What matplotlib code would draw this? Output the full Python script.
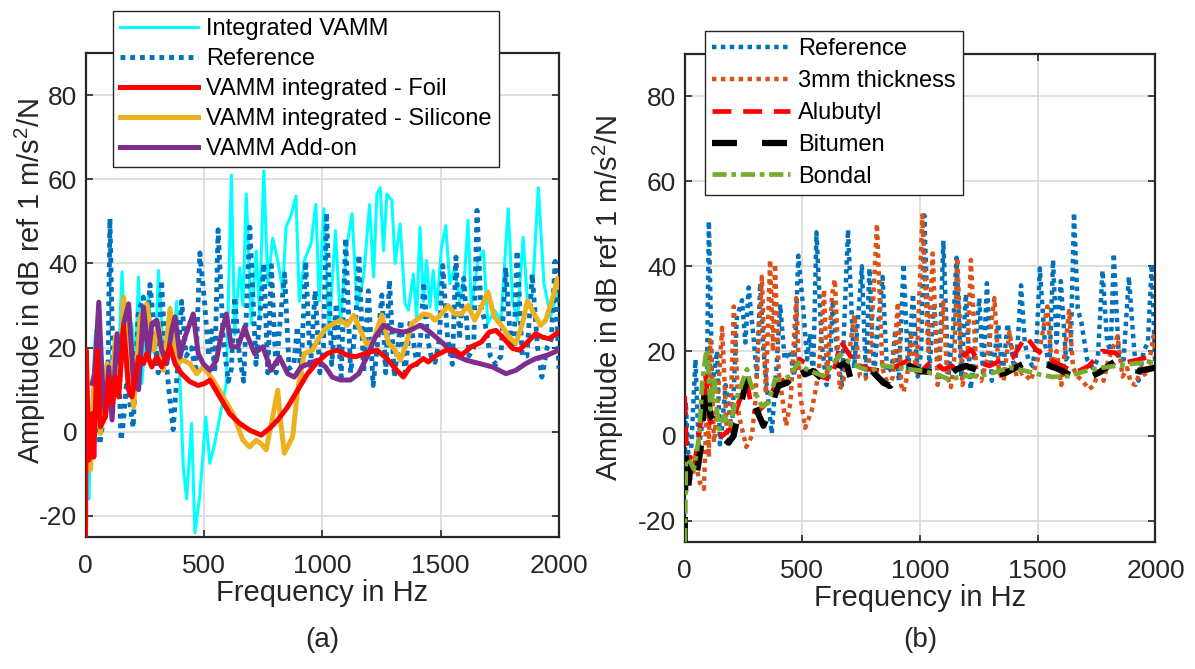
import numpy as np
import matplotlib
matplotlib.use("Agg")
import matplotlib.pyplot as plt

plt.rcParams["font.family"] = ["Liberation Sans", "DejaVu Sans"]
plt.rcParams["mathtext.default"] = "regular"
plt.rcParams["axes.unicode_minus"] = False

# ---- data: (frequency in Hz, amplitude in dB) ----
reference = [(0, -10), (5, 8), (15, -4), (28, -3), (46, 18), (60, -3), (80, 5), (95, 15),
             (103, 50.6), (117, 12), (138, 20), (150, -2), (159, 2), (174, 12), (180, 10),
             (201, 1), (222, 28), (244, 32), (258, 22), (272, 35), (293, 23), (307, 14),
             (321, 36), (335, 20), (352, 10), (370, 0.5), (390, 16), (406, 31), (425, 18),
             (448, 20), (465, 14), (483, 42.5), (504, 30), (520, 18), (532, 24), (546, 14),
             (560, 48), (582, 22), (603, 12), (616, 15), (630, 32), (650, 18), (668, 12),
             (694, 48.6), (720, 16), (740, 30), (753, 40), (770, 14), (785, 39.5), (805, 14),
             (820, 25), (841, 37.5), (860, 15), (880, 16), (895, 25), (910, 13), (930, 40.5),
             (950, 15), (970, 33.5), (990, 14), (1005, 20), (1018, 52), (1040, 16),
             (1059, 30.5), (1080, 13), (1099, 46), (1120, 14), (1140, 25), (1155, 42),
             (1175, 14), (1195, 33.5), (1215, 11), (1232, 20), (1252, 32.5), (1268, 14),
             (1284, 36), (1305, 13), (1332, 26.5), (1350, 14), (1372, 26.5), (1400, 16),
             (1415, 22), (1429, 35.5), (1445, 22), (1460, 18), (1477, 16.5), (1495, 22),
             (1509, 39.5), (1530, 22), (1550, 16), (1565, 41.5), (1580, 22), (1598, 36.5),
             (1620, 18), (1640, 20), (1654, 52.6), (1670, 30), (1686, 26.5), (1710, 18),
             (1734, 16), (1755, 18), (1775, 39), (1795, 22), (1810, 20), (1823, 43),
             (1845, 18), (1865, 18), (1887, 37.5), (1910, 20), (1928, 13), (1950, 20),
             (1968, 22), (1984, 40.5), (2000, 15)]

integrated_vamm = [(0, -5), (8, -9), (14, -16), (25, 5), (42, 24), (56, 15), (70, 8), (84, 5),
                   (100, 14), (120, 12), (140, 18), (154, 38), (175, 10), (196, 25.7), (210, 16),
                   (224, 36.8), (238, 11.5), (266, 32.8), (280, 20), (295, 18), (308, 38.3),
                   (329, 17.8), (357, 29.6), (370, 20), (385, 31), (399, 11.5), (413, -8.3),
                   (427, -16), (448, 2), (462, -24), (483, -15), (508, 3.5), (525, -7.5),
                   (545, -3), (567, 3.5), (595, 11.5), (616, 61), (630, 23), (651, 39), (665, 30),
                   (679, 56.5), (700, 25.7), (721, 43), (735, 28), (753, 62), (770, 35), (791, 46),
                   (812, 40.7), (833, 33.6), (847, 48.6), (868, 51.4), (889, 56), (903, 31),
                   (924, 40.7), (952, 44.6), (973, 54), (987, 31), (1007, 53), (1028, 23.3),
                   (1056, 47.8), (1077, 25.7), (1103, 43.9), (1126, 51.8), (1147, 29.6),
                   (1175, 36.8), (1200, 54), (1217, 36.8), (1231, 56.5), (1245, 58), (1259, 43),
                   (1273, 56.5), (1294, 55), (1308, 40), (1329, 49.4), (1350, 30.4), (1364, 28.9),
                   (1385, 37.5), (1399, 27), (1413, 48.6), (1427, 31), (1441, 40.7), (1455, 29.6),
                   (1469, 38.3), (1483, 28.9), (1504, 43.9), (1522, 49), (1539, 35.2), (1560, 39),
                   (1581, 31), (1602, 37.5), (1616, 50.2), (1630, 29.6), (1658, 40.7), (1681, 43),
                   (1700, 25.7), (1727, 28.9), (1755, 26.5), (1786, 53), (1804, 31), (1825, 26.5),
                   (1849, 46.2), (1867, 31), (1888, 32.8), (1913, 58), (1937, 35.2), (1965, 27.3),
                   (1993, 33.6), (2000, 30)]

foil = [(0, -25), (3, 19.4), (14, -6.7), (28, 4.3), (35, -6), (49, 19.4), (63, 1.2), (84, 3.6),
        (98, 13), (112, 6.7), (126, 13), (140, 8.3), (161, 25), (182, 10), (196, 8.3), (224, 17.8),
        (245, 16.2), (259, 18.6), (280, 15.4), (301, 17.8), (322, 15.4), (357, 20.2), (378, 16.2),
        (406, 13.8), (441, 11.9), (476, 11), (504, 11.5), (525, 12.3), (567, 8.3), (609, 4.3),
        (651, 2), (693, 0.4), (742, -0.8), (777, 0.8), (812, 2.8), (854, 5.9), (896, 9.9),
        (938, 13.8), (980, 16.6), (1021, 18.6), (1063, 19.4), (1105, 18.2), (1140, 17.8),
        (1182, 18.6), (1231, 19.4), (1273, 17.4), (1315, 14.6), (1343, 13), (1371, 15.4),
        (1399, 16.2), (1427, 17.4), (1448, 16.6), (1483, 18.2), (1525, 19.4), (1560, 19.4),
        (1588, 18.2), (1630, 20.2), (1672, 21.3), (1706, 23.7), (1734, 24.1), (1762, 22.5),
        (1804, 19.8), (1832, 19.4), (1867, 21.3), (1902, 23.3), (1930, 22.5), (1958, 22.1),
        (2000, 23.7)]

silicone = [(0, 0), (7, 0), (21, -9), (35, 11.5), (48, 9), (63, -0.4), (91, 16.2), (112, 11.5),
            (126, 22.5), (145, 12), (161, 32), (182, 15.4), (203, 5.9), (231, 27.3), (259, 30.4),
            (287, 19.4), (308, 25.7), (329, 14.6), (357, 29.2), (385, 16.2), (413, 17), (441, 16.2),
            (469, 13.8), (497, 15.4), (539, 12.3), (581, 8.3), (623, 4.3), (665, -2), (693, -3.6),
            (721, -2), (745, -3), (763, -4.3), (791, 3.6), (812, 9.9), (825, 2), (840, -5.1),
            (875, -1.2), (896, 9.9), (924, 18.6), (959, 19.4), (987, 22.5), (1021, 24.9),
            (1049, 25.7), (1077, 26.5), (1105, 25.3), (1133, 27.7), (1161, 24.1), (1189, 20.6),
            (1217, 21.7), (1252, 27.7), (1280, 21), (1301, 20), (1330, 17), (1356, 21),
            (1378, 25.7), (1406, 26.9), (1427, 28), (1455, 27.7), (1476, 26.5), (1504, 28),
            (1532, 30), (1560, 28), (1588, 28), (1616, 30), (1644, 26.5), (1672, 29.6),
            (1700, 33.2), (1727, 27.3), (1762, 24.9), (1790, 22.5), (1818, 21), (1846, 25.7),
            (1867, 31.2), (1895, 28), (1923, 25.3), (1944, 26.5), (1979, 32.8), (1993, 36.4),
            (2000, 34.4)]

add_on = [(28, 11.5), (38, 13.8), (56, 30.8), (70, 13), (84, 3.6), (98, 15.4), (112, 2.8),
          (133, 23.3), (147, 16.2), (161, 25.7), (182, 30.4), (203, 11.5), (224, 10), (245, 29.6),
          (266, 17.8), (280, 25.7), (301, 26.5), (322, 19.4), (343, 16.2), (364, 24.1), (378, 27.3),
          (399, 17.8), (420, 22.5), (455, 28), (476, 18.6), (497, 16.2), (525, 14.6), (553, 17),
          (574, 23.3), (595, 28), (616, 20.2), (644, 20.2), (672, 24.9), (686, 22.5), (714, 18.6),
          (749, 20.2), (784, 14.6), (819, 17.8), (854, 13.8), (882, 13), (910, 15.4), (945, 16.2),
          (980, 17), (1014, 15.4), (1042, 13), (1077, 12.3), (1119, 12.3), (1154, 13.8),
          (1189, 17.8), (1224, 22.5), (1259, 25.3), (1301, 24.1), (1343, 23.7), (1371, 24.1),
          (1413, 25.3), (1455, 23.7), (1511, 21), (1560, 18.2), (1609, 17), (1665, 16.2),
          (1720, 15.4), (1776, 13.8), (1818, 14.6), (1860, 16.2), (1902, 17.4), (1951, 18.2),
          (2000, 19.4)]

thick_3mm = [(0, -8), (10, -10), (25, -10), (40, -8), (53, -8), (65, -11), (82, -12.5), (96, 11),
             (103, -5), (109, 22.5), (125, -1.5), (140, 8), (159, 25.5), (180, 0), (195, 5),
             (209, 30.5), (230, 5), (262, -2.6), (286, 0), (300, 8), (328, 37.5), (345, 10),
             (363, 41.5), (375, 20), (384, 40.5), (400, 15), (431, 2.4), (450, 8), (474, 32.5),
             (490, 10), (512, 1.9), (540, 6), (570, 15), (592, 34.5), (605, 14), (627, 33.5),
             (638, 36.9), (659, 11), (672, 12.5), (700, 20), (721, 28.5), (745, 14), (769, 13.5),
             (790, 20), (817, 50), (840, 16), (866, 11.5), (885, 14), (906, 31.5), (920, 12),
             (930, 10.4), (945, 14), (962, 23.5), (985, 15), (1010, 52), (1035, 20), (1054, 43),
             (1075, 12), (1099, 31.5), (1115, 14), (1131, 11.5), (1145, 18), (1158, 42),
             (1180, 12), (1200, 16), (1216, 41.5), (1240, 14), (1260, 13), (1285, 18),
             (1316, 32.5), (1335, 15), (1355, 13), (1380, 24.5), (1410, 14), (1440, 15),
             (1470, 13), (1500, 18), (1541, 30.5), (1560, 16), (1580, 20), (1600, 12),
             (1633, 29.5), (1650, 16), (1670, 14), (1690, 13), (1718, 11), (1740, 12), (1760, 16),
             (1780, 13), (1800, 18), (1839, 23.5), (1860, 14), (1880, 16), (1895, 12.5),
             (1915, 12), (1940, 16), (1960, 14), (1975, 18), (1992, 23.5), (2000, 20)]

alubutyl = [(0, 9.4), (11, -7), (25, -5), (39, -7.8), (68, 3.1), (89, 14.1), (110, 3.1),
            (131, 1.6), (159, 0), (194, 1.6), (229, 7.8), (265, 12.5), (286, 6.3), (307, 5.5),
            (349, 7.8), (391, 12.5), (427, 13.3), (462, 14.9), (490, 18), (532, 16.5), (574, 14.1),
            (617, 13.3), (645, 17.3), (662, 22.4), (704, 18.8), (746, 16.5), (789, 15.7),
            (845, 15.3), (901, 16.5), (943, 17.6), (999, 14.9), (1056, 18), (1098, 15.7),
            (1140, 16.5), (1182, 18.8), (1217, 20.4), (1252, 17.3), (1295, 16.5), (1351, 18),
            (1393, 18.4), (1450, 23.5), (1492, 20.4), (1548, 18), (1604, 16.5), (1660, 14.9),
            (1717, 16.5), (1773, 20), (1829, 19.6), (1871, 17.3), (1928, 18), (1984, 18.8),
            (2000, 19)]

bitumen = [(0, -25), (4, -3), (12, -14), (25, -7), (46, -11), (68, -3), (89, 12.5), (110, 4.7),
           (138, 2.4), (165, -0.5), (187, -1.6), (208, 0), (229, 5.5), (265, 13.3), (293, 7.8),
           (335, 2.4), (363, 6.3), (398, 11.8), (434, 12.5), (462, 14.1), (490, 16.9), (511, 14.5),
           (546, 15.3), (589, 13.3), (631, 13.3), (659, 16.5), (687, 17.3), (704, 13.7),
           (746, 14.9), (789, 15.7), (845, 12.5), (873, 11.8), (908, 14.1), (957, 16.5),
           (999, 15.3), (1070, 14.9), (1112, 13.7), (1154, 15.7), (1196, 16.5), (1252, 15.3),
           (1309, 14.1), (1365, 14.9), (1435, 16.9), (1492, 17.3), (1534, 16.9), (1590, 15.7),
           (1646, 14.1), (1703, 13.3), (1759, 14.9), (1829, 17.6), (1871, 17.3), (1928, 15.3),
           (2000, 16.1)]

bondal = [(0, -25), (3, -18), (5, -6), (18, -5.5), (39, -7.8), (60, -0.8), (75, 12.5), (89, 18.8),
          (96, 20.4), (110, 6.3), (124, 14), (145, 1.6), (166, 4.7), (194, 2.4), (215, 7.8),
          (244, 12.5), (265, 15.7), (279, 12.5), (300, 10.2), (328, 7), (356, 7.8), (384, 13.3),
          (413, 13.3), (448, 14.1), (483, 17.3), (518, 15.7), (553, 14.9), (589, 14.1),
          (624, 16.5), (659, 19.2), (701, 17.3), (746, 16.1), (789, 15.3), (845, 16.6),
          (901, 16.1), (957, 15.7), (1014, 15.3), (1070, 14.5), (1126, 13.3), (1182, 14.1),
          (1252, 14.1), (1323, 15.1), (1379, 16.1), (1450, 15.3), (1506, 14.5), (1562, 13.9),
          (1632, 14.1), (1703, 15.3), (1773, 16.1), (1843, 16.6), (1913, 17.1), (2000, 17.4)]

x_ticks = [0, 500, 1000, 1500, 2000]
y_ticks = [-20, 0, 20, 40, 60, 80]
ylabel = "Amplitude in dB ref 1 m/s$^{2}$/N"


def xy(points):
    a = np.array(points, dtype=float)
    return a[:, 0], a[:, 1]


def style_axes(ax):
    ax.set_xlim(0, 2000)
    ax.set_ylim(-25, 90)
    ax.set_xticks(x_ticks)
    ax.set_yticks(y_ticks)
    ax.grid(True, color="#d9d9d9", linewidth=1.2)
    ax.set_axisbelow(True)
    for s in ax.spines.values():
        s.set_linewidth(1.6)
        s.set_color("#262626")
    ax.tick_params(direction="in", top=True, right=True, length=5, width=1.2,
                   labelsize=19, colors="#262626")
    ax.tick_params(axis="x", pad=12)
    ax.tick_params(axis="y", pad=6)
    ax.set_xlabel("Frequency in Hz", fontsize=21, color="#262626", labelpad=1)


def add_legend(ax, handles, labels, x, y, spacing):
    leg = ax.legend(handles, labels, loc="upper left", bbox_to_anchor=(x / 1195, 1 - y / 669),
                    bbox_transform=fig.transFigure, fontsize=17, fancybox=False,
                    framealpha=1, edgecolor="#262626", handlelength=3.3,
                    handletextpad=0.35, labelspacing=spacing, borderpad=0.3,
                    borderaxespad=0)
    leg.get_frame().set_linewidth(1.0)
    return leg


fig = plt.figure(figsize=(11.95, 6.69), dpi=100)
ax1 = fig.add_axes([0.0716, 0.1973, 0.3961, 0.7235])
ax2 = fig.add_axes([0.5729, 0.1898, 0.3940, 0.7294])

# ---- panel (a) ----
l_cyan, = ax1.plot(*xy(integrated_vamm), color="#00FFFF", lw=2.2, zorder=2)
l_ref, = ax1.plot(*xy(reference), color="#0072BD", lw=3.5, ls=(0, (1, 1)), zorder=3)
l_sil, = ax1.plot(*xy(silicone), color="#EDB120", lw=3.6, zorder=4)
l_add, = ax1.plot(*xy(add_on), color="#7E2F8E", lw=3.6, zorder=5)
l_foil, = ax1.plot(*xy(foil), color="#FF0000", lw=3.6, zorder=6)
style_axes(ax1)
ax1.set_ylabel(ylabel, fontsize=21, color="#262626")
ax1.yaxis.set_label_coords(-0.080, 0.53)
add_legend(ax1, [l_cyan, l_ref, l_foil, l_sil, l_add],
           ["Integrated VAMM", "Reference", "VAMM integrated - Foil",
            "VAMM integrated - Silicone", "VAMM Add-on"], 113, 11, 0.34)

# ---- panel (b) ----
r_ref, = ax2.plot(*xy(reference), color="#0072BD", lw=3.2, ls=(0, (1, 1)), zorder=2)
r_3mm, = ax2.plot(*xy(thick_3mm), color="#D95319", lw=3.2, ls=(0, (1, 1)), zorder=3)
r_alu, = ax2.plot(*xy(alubutyl), color="#FF0000", lw=3.4, ls=(0, (4, 2.5)), zorder=4)
r_bit, = ax2.plot(*xy(bitumen), color="#000000", lw=4.5, ls=(0, (4, 4)), zorder=5)
r_bon, = ax2.plot(*xy(bondal), color="#77AC30", lw=3.4, ls=(0, (3, 1, 1, 1)), zorder=6)
style_axes(ax2)
ax2.set_ylabel(ylabel, fontsize=21, color="#262626")
ax2.yaxis.set_label_coords(-0.125, 0.50)
add_legend(ax2, [r_ref, r_3mm, r_alu, r_bit, r_bon],
           ["Reference", "3mm thickness", "Alubutyl", "Bitumen", "Bondal"], 705, 31, 0.42)

fig.text(322 / 1195, 1 - 640 / 669, "(a)", fontsize=20, ha="center", va="center",
         color="#262626")
fig.text(920 / 1195, 1 - 640 / 669, "(b)", fontsize=20, ha="center", va="center",
         color="#262626")

fig.savefig("out.png", dpi=100)
